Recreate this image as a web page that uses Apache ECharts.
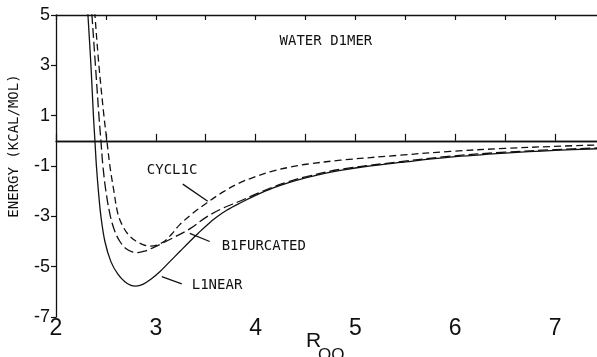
<!DOCTYPE html>
<html>
<head>
<meta charset="utf-8">
<script src="https://cdn.jsdelivr.net/npm/echarts@6/dist/echarts.min.js"></script>
<style>
  html, body { margin: 0; padding: 0; background: #fff; }
  #chart { width: 597px; height: 357px; }
</style>
</head>
<body>
<div id="chart"></div>
<script>
// R(O-O) in angstrom vs interaction energy in kcal/mol
const linear = [
  [2.31, 5.6], [2.32, 5.0], [2.35, 3.0], [2.375, 1.0], [2.39, 0], [2.405, -1.0],
  [2.425, -2.0], [2.45, -3.0], [2.49, -4.0], [2.55, -4.8], [2.62, -5.3], [2.69, -5.6],
  [2.75, -5.74], [2.8, -5.77], [2.87, -5.7], [2.95, -5.5], [3.04, -5.2], [3.14, -4.8],
  [3.24, -4.4], [3.34, -4.0], [3.43, -3.65], [3.52, -3.32], [3.61, -3.03], [3.71, -2.76],
  [3.84, -2.48], [4.0, -2.17], [4.17, -1.88], [4.34, -1.65], [4.51, -1.46], [4.68, -1.3],
  [4.85, -1.17], [5.1, -1.02], [5.45, -0.86], [5.95, -0.65], [6.5, -0.49], [7.0, -0.38],
  [7.45, -0.31]
];
const bifurcated = [
  [2.35, 5.6], [2.36, 5.0], [2.395, 3.0], [2.43, 1.0], [2.45, 0], [2.47, -1.0],
  [2.5, -2.0], [2.545, -3.0], [2.59, -3.6], [2.64, -4.0], [2.7, -4.28], [2.77, -4.42],
  [2.82, -4.44], [2.89, -4.38], [2.97, -4.25], [3.06, -4.08], [3.17, -3.86], [3.34, -3.5],
  [3.51, -3.02], [3.67, -2.68], [3.84, -2.4], [4.0, -2.12], [4.17, -1.84], [4.34, -1.61],
  [4.51, -1.42], [4.85, -1.13], [5.45, -0.83], [5.95, -0.61], [6.5, -0.45], [7.0, -0.35],
  [7.45, -0.28]
];
const cyclic = [
  [2.38, 5.6], [2.39, 5.0], [2.43, 3.0], [2.48, 1.0], [2.51, 0], [2.54, -1.0],
  [2.58, -2.0], [2.62, -2.9], [2.67, -3.4], [2.73, -3.75], [2.8, -3.98], [2.87, -4.12],
  [2.94, -4.18], [3.01, -4.14], [3.09, -3.98], [3.16, -3.7], [3.24, -3.33], [3.37, -2.88],
  [3.51, -2.47], [3.67, -2.04], [3.84, -1.67], [4.0, -1.42], [4.17, -1.2], [4.34, -1.05],
  [4.51, -0.93], [4.85, -0.77], [5.45, -0.57], [5.95, -0.42], [6.5, -0.3], [7.0, -0.22],
  [7.45, -0.16]
];
const xLabelTicks = [2, 3, 4, 5, 6, 7];
const xTicks = [2, 2.5, 3, 3.5, 4, 4.5, 5, 5.5, 6, 6.5, 7];
const yTicks = [-7, -5, -3, -1, 1, 3, 5];

const chart = echarts.init(document.getElementById('chart'));
const mono = 'DejaVu Sans Mono';
const ink = '#111';

const axisBase = {
  type: 'value', min: 2, max: 7.42,
  splitLine: { show: false },
  axisLine: { show: true, lineStyle: { color: ink, width: 1.3 } }
};

chart.setOption({
  animation: false,
  backgroundColor: '#fff',
  grid: { left: 56, top: 15, right: 0, bottom: 40 },
  xAxis: [
    Object.assign({}, axisBase, {
      position: 'bottom',
      axisTick: { inside: true, length: 7, customValues: xTicks, lineStyle: { color: ink, width: 1.2 } },
      axisLabel: {
        customValues: xLabelTicks, margin: 0, color: ink,
        fontFamily: 'Liberation Sans', fontSize: 23
      }
    }),
    Object.assign({}, axisBase, {
      position: 'top',
      axisTick: { inside: true, length: 5, customValues: xTicks, lineStyle: { color: ink, width: 1.2 } },
      axisLabel: { show: false }
    })
  ],
  yAxis: {
    type: 'value', min: -7, max: 5,
    splitLine: { show: false },
    axisLine: { show: true, lineStyle: { color: ink, width: 1.3 } },
    axisTick: { inside: false, length: 5, customValues: yTicks, lineStyle: { color: ink, width: 1.2 } },
    axisLabel: {
      customValues: yTicks, margin: 6, color: ink,
      fontFamily: 'Liberation Sans', fontSize: 18
    }
  },
  series: [
    {
      name: 'LINEAR', type: 'line', data: linear, showSymbol: false,
      smooth: 0.35,
      lineStyle: { color: ink, width: 1.3, type: 'solid' },
      markLine: {
        silent: true, symbol: 'none', label: { show: false },
        lineStyle: { color: ink, width: 1.4, type: 'solid' },
        data: [{ yAxis: 0 }]
      }
    },
    {
      name: 'BIFURCATED', type: 'line', data: bifurcated, showSymbol: false,
      smooth: 0.35,
      lineStyle: { color: ink, width: 1.3, type: [10, 4] }
    },
    {
      name: 'CYCLIC', type: 'line', data: cyclic, showSymbol: false,
      smooth: 0.35,
      lineStyle: { color: ink, width: 1.3, type: [7, 4] }
    }
  ]
});

// labels and leader lines, placed in data coordinates
const px = (p) => chart.convertToPixel({ gridIndex: 0 }, p);
const label = (text, at) => {
  const p = px(at);
  return {
    type: 'text', x: p[0], y: p[1],
    style: { text, fill: ink, font: '14px "' + mono + '"', verticalAlign: 'middle' }
  };
};
const leader = (a, b) => {
  const p = px(a), q = px(b);
  return {
    type: 'line',
    shape: { x1: p[0], y1: p[1], x2: q[0], y2: q[1] },
    style: { stroke: ink, lineWidth: 1.3 }
  };
};

chart.setOption({
  graphic: [
    label('WATER D1MER', [4.24, 3.96]),
    label('CYCL1C', [2.91, -1.16]),
    leader([3.27, -1.72], [3.52, -2.4]),
    label('B1FURCATED', [3.66, -4.2]),
    leader([3.34, -3.68], [3.54, -4.0]),
    label('L1NEAR', [3.36, -5.73]),
    leader([3.06, -5.4], [3.26, -5.68]),
    {
      type: 'text', x: 14, y: 146, rotation: Math.PI / 2,
      style: {
        text: 'ENERGY (KCAL/MOL)', fill: ink, font: '14px "' + mono + '"',
        align: 'center', verticalAlign: 'middle'
      }
    },
    {
      type: 'text', x: 306, y: 341,
      style: { text: 'R', fill: ink, font: '21px "Liberation Sans"', verticalAlign: 'middle' }
    },
    {
      type: 'text', x: 318, y: 355,
      style: { text: 'OO', fill: ink, font: '17px "Liberation Sans"', verticalAlign: 'middle' }
    }
  ]
});
</script>
</body>
</html>
